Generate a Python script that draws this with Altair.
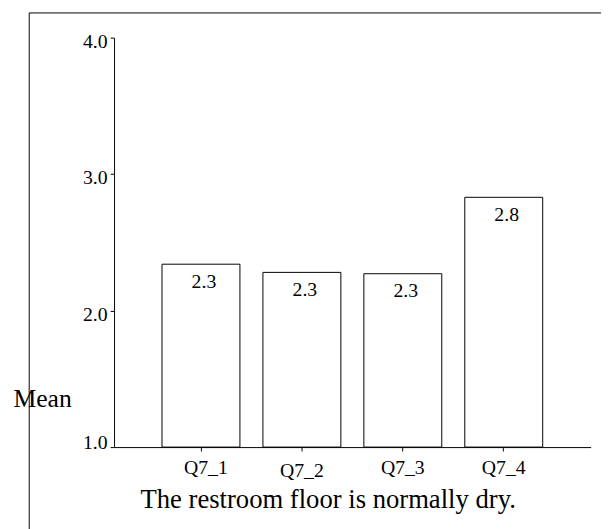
import altair as alt
import pandas as pd

categories = ["Q7_1", "Q7_2", "Q7_3", "Q7_4"]
means = [2.34, 2.28, 2.27, 2.83]
value_labels = ["2.3", "2.3", "2.3", "2.8"]
y_ticks = [1, 2, 3, 4]

df = pd.DataFrame({"item": categories, "mean": means, "label": value_labels})
frame_df = pd.DataFrame({"k": [0]})

FONT = "Liberation Serif"

x_enc = alt.X(
    "item:N",
    sort=categories,
    scale=alt.Scale(paddingInner=0.228, paddingOuter=0.475),
    axis=alt.Axis(
        title="The restroom floor is normally dry.",
        labelAngle=0,
        tickSize=4,
        labelPadding={"condition": {"test": "datum.value == 'Q7_2'", "value": 10}, "value": 7},
        labelOffset={"condition": {"test": "datum.value == 'Q7_1'", "value": 5}, "value": 0},
        labelFont=FONT,
        labelFontSize=20,
        labelColor="black",
        domainColor="black",
        tickColor="black",
        titleFont=FONT,
        titleFontSize=27,
        titleFontWeight="normal",
        titleColor="black",
        titleAlign="center",
        titleBaseline="alphabetic",
        titleX=216.5,
        titleY=61.7,
    ),
)

y_enc = alt.Y(
    "mean:Q",
    scale=alt.Scale(domain=[1, 4], zero=False, nice=False),
    axis=alt.Axis(
        values=y_ticks,
        format=".1f",
        grid=False,
        tickSize=4,
        labelPadding=3,
        labelFont=FONT,
        labelFontSize=20,
        labelColor="black",
        labelOffset={"condition": {"test": "datum.value == 1", "value": -5}, "value": 4},
        domainColor="black",
        tickColor="black",
        title="Mean",
        titleAngle=0,
        titleAlign="left",
        titleBaseline="alphabetic",
        titleX=-102.5,
        titleY=373.8,
        titleFont=FONT,
        titleFontSize=26,
        titleFontWeight="normal",
        titleColor="black",
    ),
)

bars = alt.Chart(df).mark_bar(fill="white", stroke="black", strokeWidth=1).encode(
    x=x_enc,
    y=y_enc,
    y2=alt.datum(1),
)

texts = alt.Chart(df).mark_text(
    font=FONT, fontSize=20, baseline="alphabetic", dy=24, dx=3, color="black"
).encode(
    x=alt.X("item:N", sort=categories),
    y=alt.Y("mean:Q"),
    text="label:N",
)

frame_top = alt.Chart(frame_df).mark_rule(color="black", strokeWidth=1).encode(
    x=alt.value(-86), x2=alt.value(700), y=alt.value(-25)
)
frame_left = alt.Chart(frame_df).mark_rule(color="black", strokeWidth=1).encode(
    x=alt.value(-86), y=alt.value(-25), y2=alt.value(700)
)

chart = (
    alt.layer(frame_top, frame_left, bars, texts)
    .properties(
        width=483,
        height=415,
        autosize=alt.AutoSizeParams(type="none"),
        padding={"left": 107.5, "top": 26.5, "right": 10.5, "bottom": 79.5},
        background="white",
    )
    .configure_view(stroke=None)
)

chart.save("out.html", embed_options={"renderer": "svg", "actions": False})
